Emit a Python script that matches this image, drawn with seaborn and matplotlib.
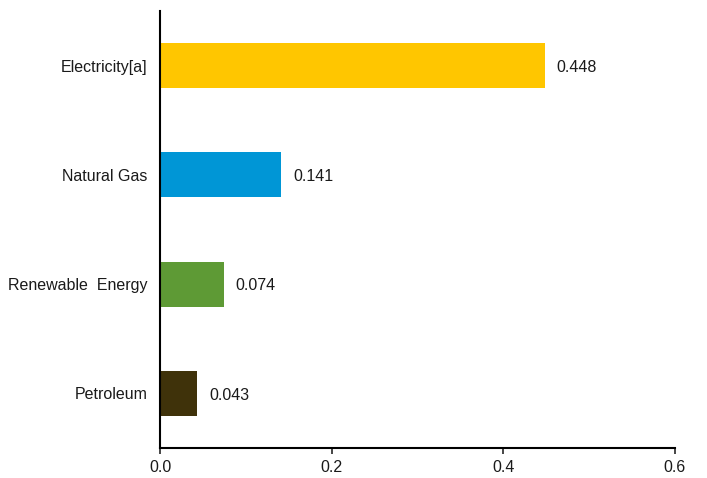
import matplotlib
matplotlib.use("Agg")
import matplotlib.pyplot as plt
import seaborn as sns
import pandas as pd

categories = ["Electricity[a]", "Natural Gas", "Renewable  Energy", "Petroleum"]
values = [0.448, 0.141, 0.074, 0.043]
colors = ["#FFC600", "#0096D6", "#5E9A35", "#3F320A"]
xticks = [0.0, 0.2, 0.4, 0.6]

sns.set_style("white")
plt.rcParams["font.family"] = ["Liberation Sans", "DejaVu Sans"]

df = pd.DataFrame({"cat": categories, "val": values})

fig = plt.figure(figsize=(7.07, 4.78), dpi=100)
ax = fig.add_axes([160/707, 1-448/478, (675-160)/707, (448-11)/478])
sns.barplot(data=df, x="val", y="cat", hue="cat", palette=colors, width=0.41,
            legend=False, ax=ax, saturation=1, linewidth=0)

for i, v in enumerate(values):
    ax.text(v + 0.014, i + 0.015, f"{v:.3f}", va="center", ha="left", fontsize=11.5, color="#1a1a1a")

ax.set_xlim(0, 0.6)
ax.set_xticks(xticks)
ax.set_xticklabels([f"{t:.1f}" for t in xticks], fontsize=11.5, color="#1a1a1a")
ax.tick_params(axis="y", length=0, labelsize=11.5, labelcolor="#1a1a1a", pad=9)
ax.tick_params(axis="x", length=4, width=1.2, direction="out", bottom=True, pad=5)
ax.set_xlabel("")
ax.set_ylabel("")
for s in ["top", "right"]:
    ax.spines[s].set_visible(False)
for s in ["left", "bottom"]:
    ax.spines[s].set_color("black")
    ax.spines[s].set_linewidth(1.5)

fig.savefig("out.png", dpi=100)
